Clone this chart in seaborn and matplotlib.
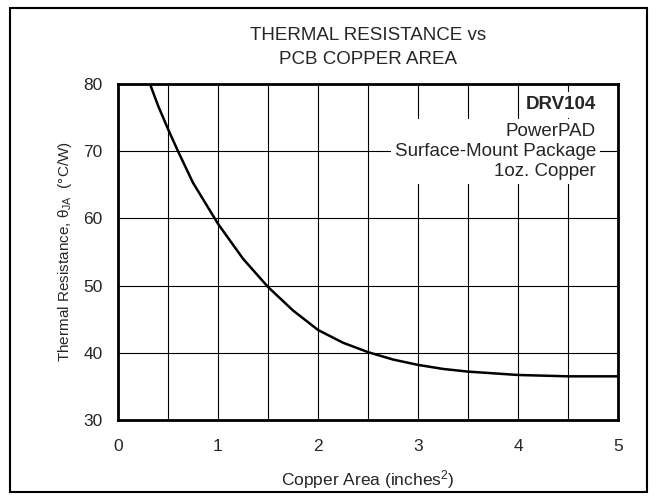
import numpy as np
import pandas as pd
import matplotlib
matplotlib.use("Agg")
import matplotlib.pyplot as plt
import seaborn as sns
from matplotlib.patches import Rectangle

# valores
area = [0.32, 0.40, 0.50, 0.60, 0.75, 1.00, 1.25, 1.50, 1.75, 2.00, 2.25, 2.50,
        2.75, 3.00, 3.25, 3.50, 4.00, 4.50, 5.00]
theta_ja = [80.0, 76.8, 73.3, 70.0, 65.3, 59.2, 54.0, 49.8, 46.3, 43.4, 41.5, 40.1,
            39.0, 38.2, 37.6, 37.2, 36.7, 36.5, 36.5]
xticks = [0, 1, 2, 3, 4, 5]
yticks = [30, 40, 50, 60, 70, 80]

df = pd.DataFrame({"area": area, "theta": theta_ja})

sns.set_style("white")
plt.rcParams["font.family"] = ["Liberation Sans", "DejaVu Sans"]
plt.rcParams["mathtext.fontset"] = "custom"
plt.rcParams["mathtext.rm"] = "Liberation Sans"
plt.rcParams["mathtext.it"] = "Liberation Sans"

fig = plt.figure(figsize=(6.57, 5.0), dpi=100)
ax = fig.add_axes([118 / 657, 80 / 500, 500 / 657, 336 / 500])

sns.lineplot(data=df, x="area", y="theta", color="black", linewidth=1.8, ax=ax)

ax.set_xlim(0, 5)
ax.set_ylim(30, 80)
ax.set_xticks(xticks)
ax.set_yticks(yticks)
ax.set_xticks(np.arange(0.5, 5, 1.0), minor=True)
ax.grid(True, which="both", axis="x", color="black", linewidth=0.8)
ax.grid(True, which="major", axis="y", color="black", linewidth=0.8)
ax.tick_params(length=0, labelsize=12.5, which="both")
ax.tick_params(axis="y", pad=11)
ax.tick_params(axis="x", pad=13.5)
for s in ax.spines.values():
    s.set_linewidth(2)
    s.set_color("black")

ax.set_xlabel("Copper Area (inches$^2$)", fontsize=12.5, labelpad=10.5)
ax.set_ylabel("Thermal Resistance, $\\theta_{JA}$  (°C/W)", fontsize=11, labelpad=6.5)

fig.text(368 / 657, 1 - 35 / 500, "THERMAL RESISTANCE vs",
         ha="center", va="center", fontsize=13.5)
fig.text(368 / 657, 1 - 60 / 500, "PCB COPPER AREA",
         ha="center", va="center", fontsize=13.5)

ax.text(0.956, 0.963, "DRV104", transform=ax.transAxes, ha="right", va="top",
        fontsize=13.5, fontweight="bold",
        bbox=dict(facecolor="white", edgecolor="none", pad=3))
ax.text(0.956, 0.885, "PowerPAD\nSurface-Mount Package\n1oz. Copper",
        transform=ax.transAxes, ha="right", va="top", fontsize=13.5,
        linespacing=1.23,
        bbox=dict(facecolor="white", edgecolor="none", pad=3))

fig.patches.append(Rectangle((10 / 657, 8 / 500), 637 / 657, 484 / 500,
                             transform=fig.transFigure, fill=False,
                             edgecolor="black", linewidth=1.5))

fig.savefig("out.png", dpi=100)
